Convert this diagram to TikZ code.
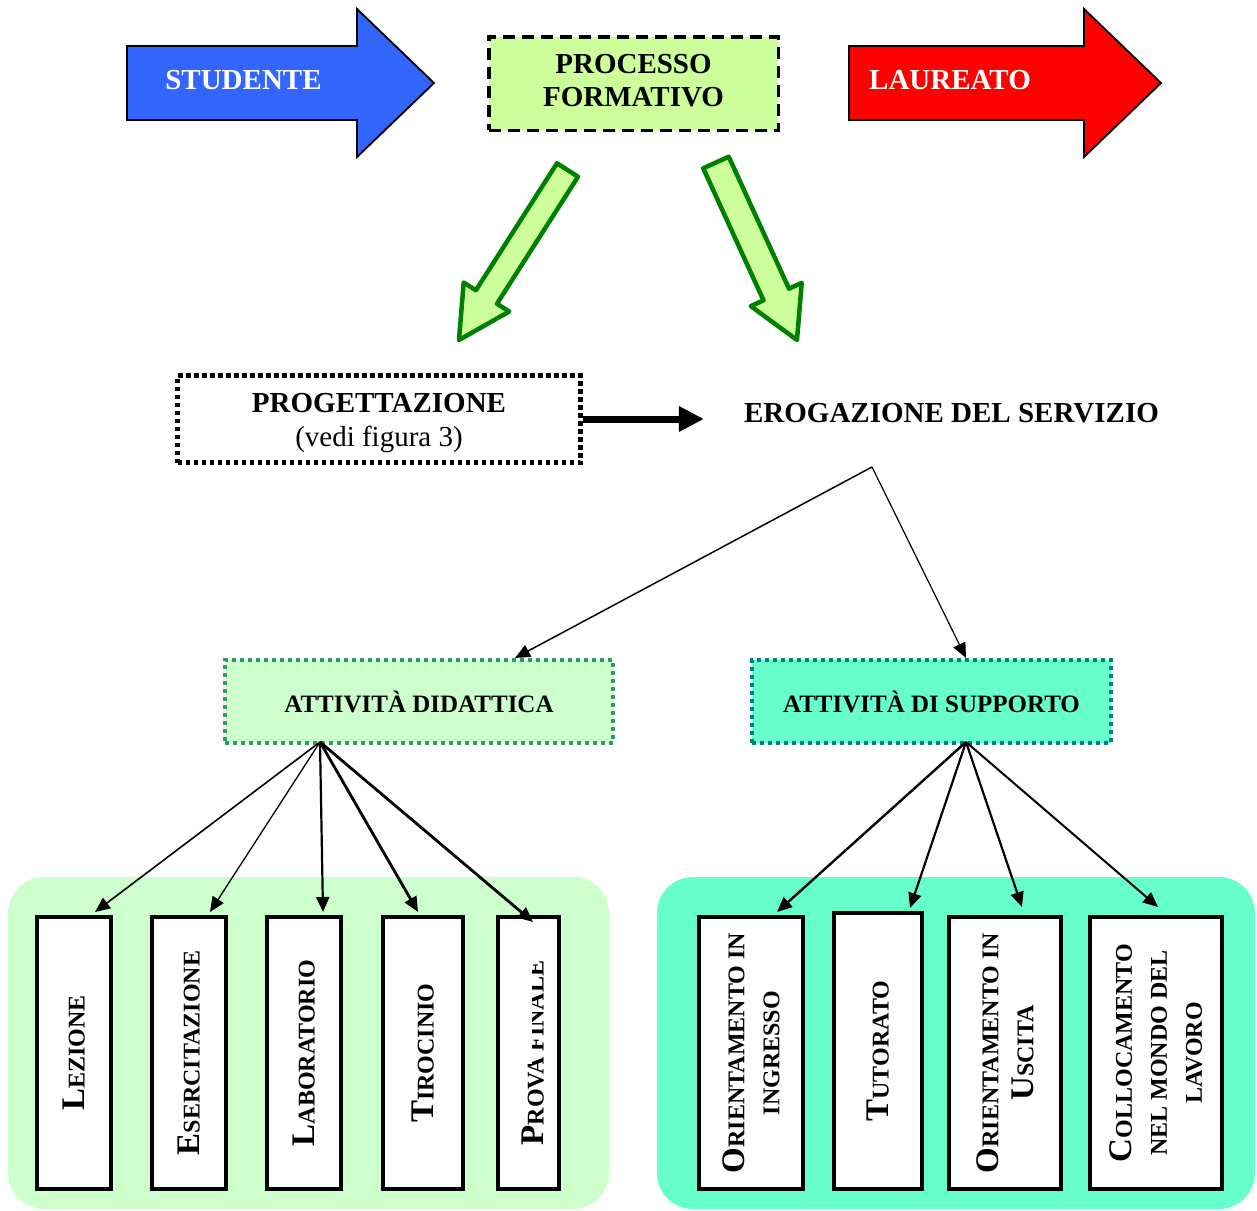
\documentclass[tikz,border=0pt]{standalone}
\usepackage{fontspec}
\setmainfont{Liberation Serif}
\usetikzlibrary{arrows.meta,calc}

\definecolor{stublue}{HTML}{3366FF}
\definecolor{laured}{HTML}{FF0000}
\definecolor{limefill}{HTML}{CCFF99}
\definecolor{arrowgreen}{HTML}{008000}
\definecolor{mintfill}{HTML}{CCFFCC}
\definecolor{aquafill}{HTML}{66FFCC}
\definecolor{seagreen}{HTML}{339966}
\definecolor{tealline}{HTML}{008080}

% enlarged initial letter for the small-caps item labels
\newcommand\Bc[1]{{\fontsize{33}{35}\selectfont #1}}

\begin{document}
\begin{tikzpicture}[x=1pt,y=-1pt,
  boldtext/.style={font=\bfseries\fontsize{29}{33}\selectfont, inner sep=0},
  processbox/.style={draw, line width=3.5, dash pattern=on 12pt off 7pt, fill=limefill,
    minimum width=289.5, minimum height=93.5, inner sep=0},
  designbox/.style={draw, line width=5, dash pattern=on 4.5pt off 3.5pt,
    minimum width=403, minimum height=87, inner sep=0},
  designtext/.style={align=center, inner sep=0, font=\bfseries\fontsize{29}{34}\selectfont},
  activitybox/.style={draw, line width=4, dash pattern=on 4pt off 4pt,
    minimum height=83, inner sep=0, font=\bfseries\fontsize{25}{28}\selectfont},
  itembox/.style={draw, line width=4, fill=white, minimum height=272, inner sep=0},
  itemlabel/.style={rotate=90, align=center, inner sep=0,
    font=\bfseries\fontsize{24}{35}\selectfont},
  link/.style={-{Triangle[length=15pt,width=13pt]}},
  fatarrow/.style={draw=arrowgreen, fill=limefill, line width=4.5, line join=round},
  bannerarrow/.style={draw=black, line width=1.8, line join=miter}
]
\useasboundingbox (0,0) rectangle (1257,1210);

% background panels of the two groups
\fill[mintfill, rounded corners=36] (8,877) rectangle (609,1209);
\fill[aquafill, rounded corners=36] (657,877) rectangle (1255,1209);

% top row: student -> training process -> graduate
\draw[bannerarrow, fill=stublue] (127,46) -- (357,46) -- (357,9) -- (434,83)
  -- (357,157) -- (357,120) -- (127,120) -- cycle;
\node[boldtext, text=white] (stud) at (243.5,80) {STUDENTE};

\node[processbox, label={[boldtext, align=center, yshift=3pt]center:PROCESSO\\FORMATIVO}]
  (proc) at (633.5,83.5) {};

\draw[bannerarrow, fill=laured] (849,46) -- (1084,46) -- (1084,9) -- (1161,83)
  -- (1084,157) -- (1084,120) -- (849,120) -- cycle;
\node[boldtext, text=white] (laur) at (950,80) {LAUREATO};

% block arrows leaving the process box
\begin{scope}[shift={(567.5,170)}, rotate=-122.55]
  \draw[fatarrow] (0,12.5) -- (150.7,12.5) -- (150.7,27) -- (201.7,0)
    -- (150.7,-27) -- (150.7,-12.5) -- (0,-12.5) -- cycle;
\end{scope}
\begin{scope}[shift={(716,162.5)}, rotate=-65.47]
  \draw[fatarrow] (0,14) -- (145.1,14) -- (145.1,28) -- (195.1,0)
    -- (145.1,-28) -- (145.1,-14) -- (0,-14) -- cycle;
\end{scope}

% design and delivery
\node[designbox,
  label={[designtext, yshift=-4pt]center:PROGETTAZIONE\\{\mdseries (vedi figura 3)}}]
  (prog) at (379,419) {};
\node[boldtext] (erog) at (951.5,413) {EROGAZIONE DEL SERVIZIO};
\draw[line width=7, -{Triangle[length=25pt,width=24pt]}, shorten >=40pt]
  (prog.east) -- (prog.east -| erog.west);

\coordinate (fork) at (872,467);

% the two activity families
\node[activitybox, draw=seagreen, fill=mintfill, minimum width=388] (did)
  at (419,701.5) {ATTIVITÀ DIDATTICA};
\node[activitybox, draw=tealline, fill=aquafill, minimum width=359] (sup)
  at (931.5,701.5) {ATTIVITÀ DI SUPPORTO};

\draw[link, line width=1.5] (fork) -- ($(did.north)+(96,0)$);
\draw[link, line width=1.2] (fork) -- ($(sup.north)+(34.5,0)$);

% teaching activities
\node[itembox, minimum width=74, label={[itemlabel]center:\Bc{L}EZIONE}] (lez) at (74,1053) {};
\node[itembox, minimum width=74, label={[itemlabel]center:\Bc{E}SERCITAZIONE}] (ese) at (189,1053) {};
\node[itembox, minimum width=74, label={[itemlabel]center:\Bc{L}ABORATORIO}] (lab) at (304,1053) {};
\node[itembox, minimum width=80, label={[itemlabel]center:\Bc{T}IROCINIO}] (tir) at (423,1053) {};
\node[itembox, minimum width=61] (pro) at (528.5,1053) {};
\begin{scope}
  \clip (496,1191) rectangle (561,1064) (532,1064) rectangle (561,915);
  \node[itemlabel] (protxt) at (533,1053) {\Bc{P}ROVA FINALE};
\end{scope}

% support activities
\node[itembox, minimum width=104,
  label={[itemlabel]center:\Bc{O}RIENTAMENTO IN\\INGRESSO}] (ori) at (751,1053) {};
\node[itembox, minimum width=88, minimum height=276,
  label={[itemlabel]center:\Bc{T}UTORATO}] (tut) at (878,1051) {};
\node[itembox, minimum width=112,
  label={[itemlabel]center:\Bc{O}RIENTAMENTO IN\\\Bc{U}SCITA}] (usc) at (1005,1053) {};
\node[itembox, minimum width=132,
  label={[itemlabel]center:\Bc{C}OLLOCAMENTO\\NEL MONDO DEL\\LAVORO}] (col) at (1156,1053) {};

% links from the teaching box
\coordinate (didout) at ($(did.south)+(-99,-3)$);
\draw[link, line width=1.6] (didout) -- ($(lez.north)+(21,-3)$);
\draw[link, line width=1.3] (didout) -- ($(ese.north)+(21,-3)$);
\draw[link, line width=2.2] (didout) -- ($(lab.north)+(19,-3)$);
\draw[link, line width=2.8] (didout) -- ($(tir.north)+(-5,-3)$);
\draw[link, line width=2.8] (didout) -- ($(pro.north)+(4.5,7)$);

% links from the support box
\coordinate (supout) at ($(sup.south)+(34.5,-3)$);
\draw[link, line width=2.4] (supout) -- ($(ori.north)+(26,-3)$);
\draw[link, line width=2.2] (supout) -- ($(tut.north)+(32,-3)$);
\draw[link, line width=2.2] (supout) -- ($(usc.north)+(17,-8)$);
\draw[link, line width=2.0] (supout) -- ($(col.north)+(2,-8)$);
\end{tikzpicture}
\end{document}
